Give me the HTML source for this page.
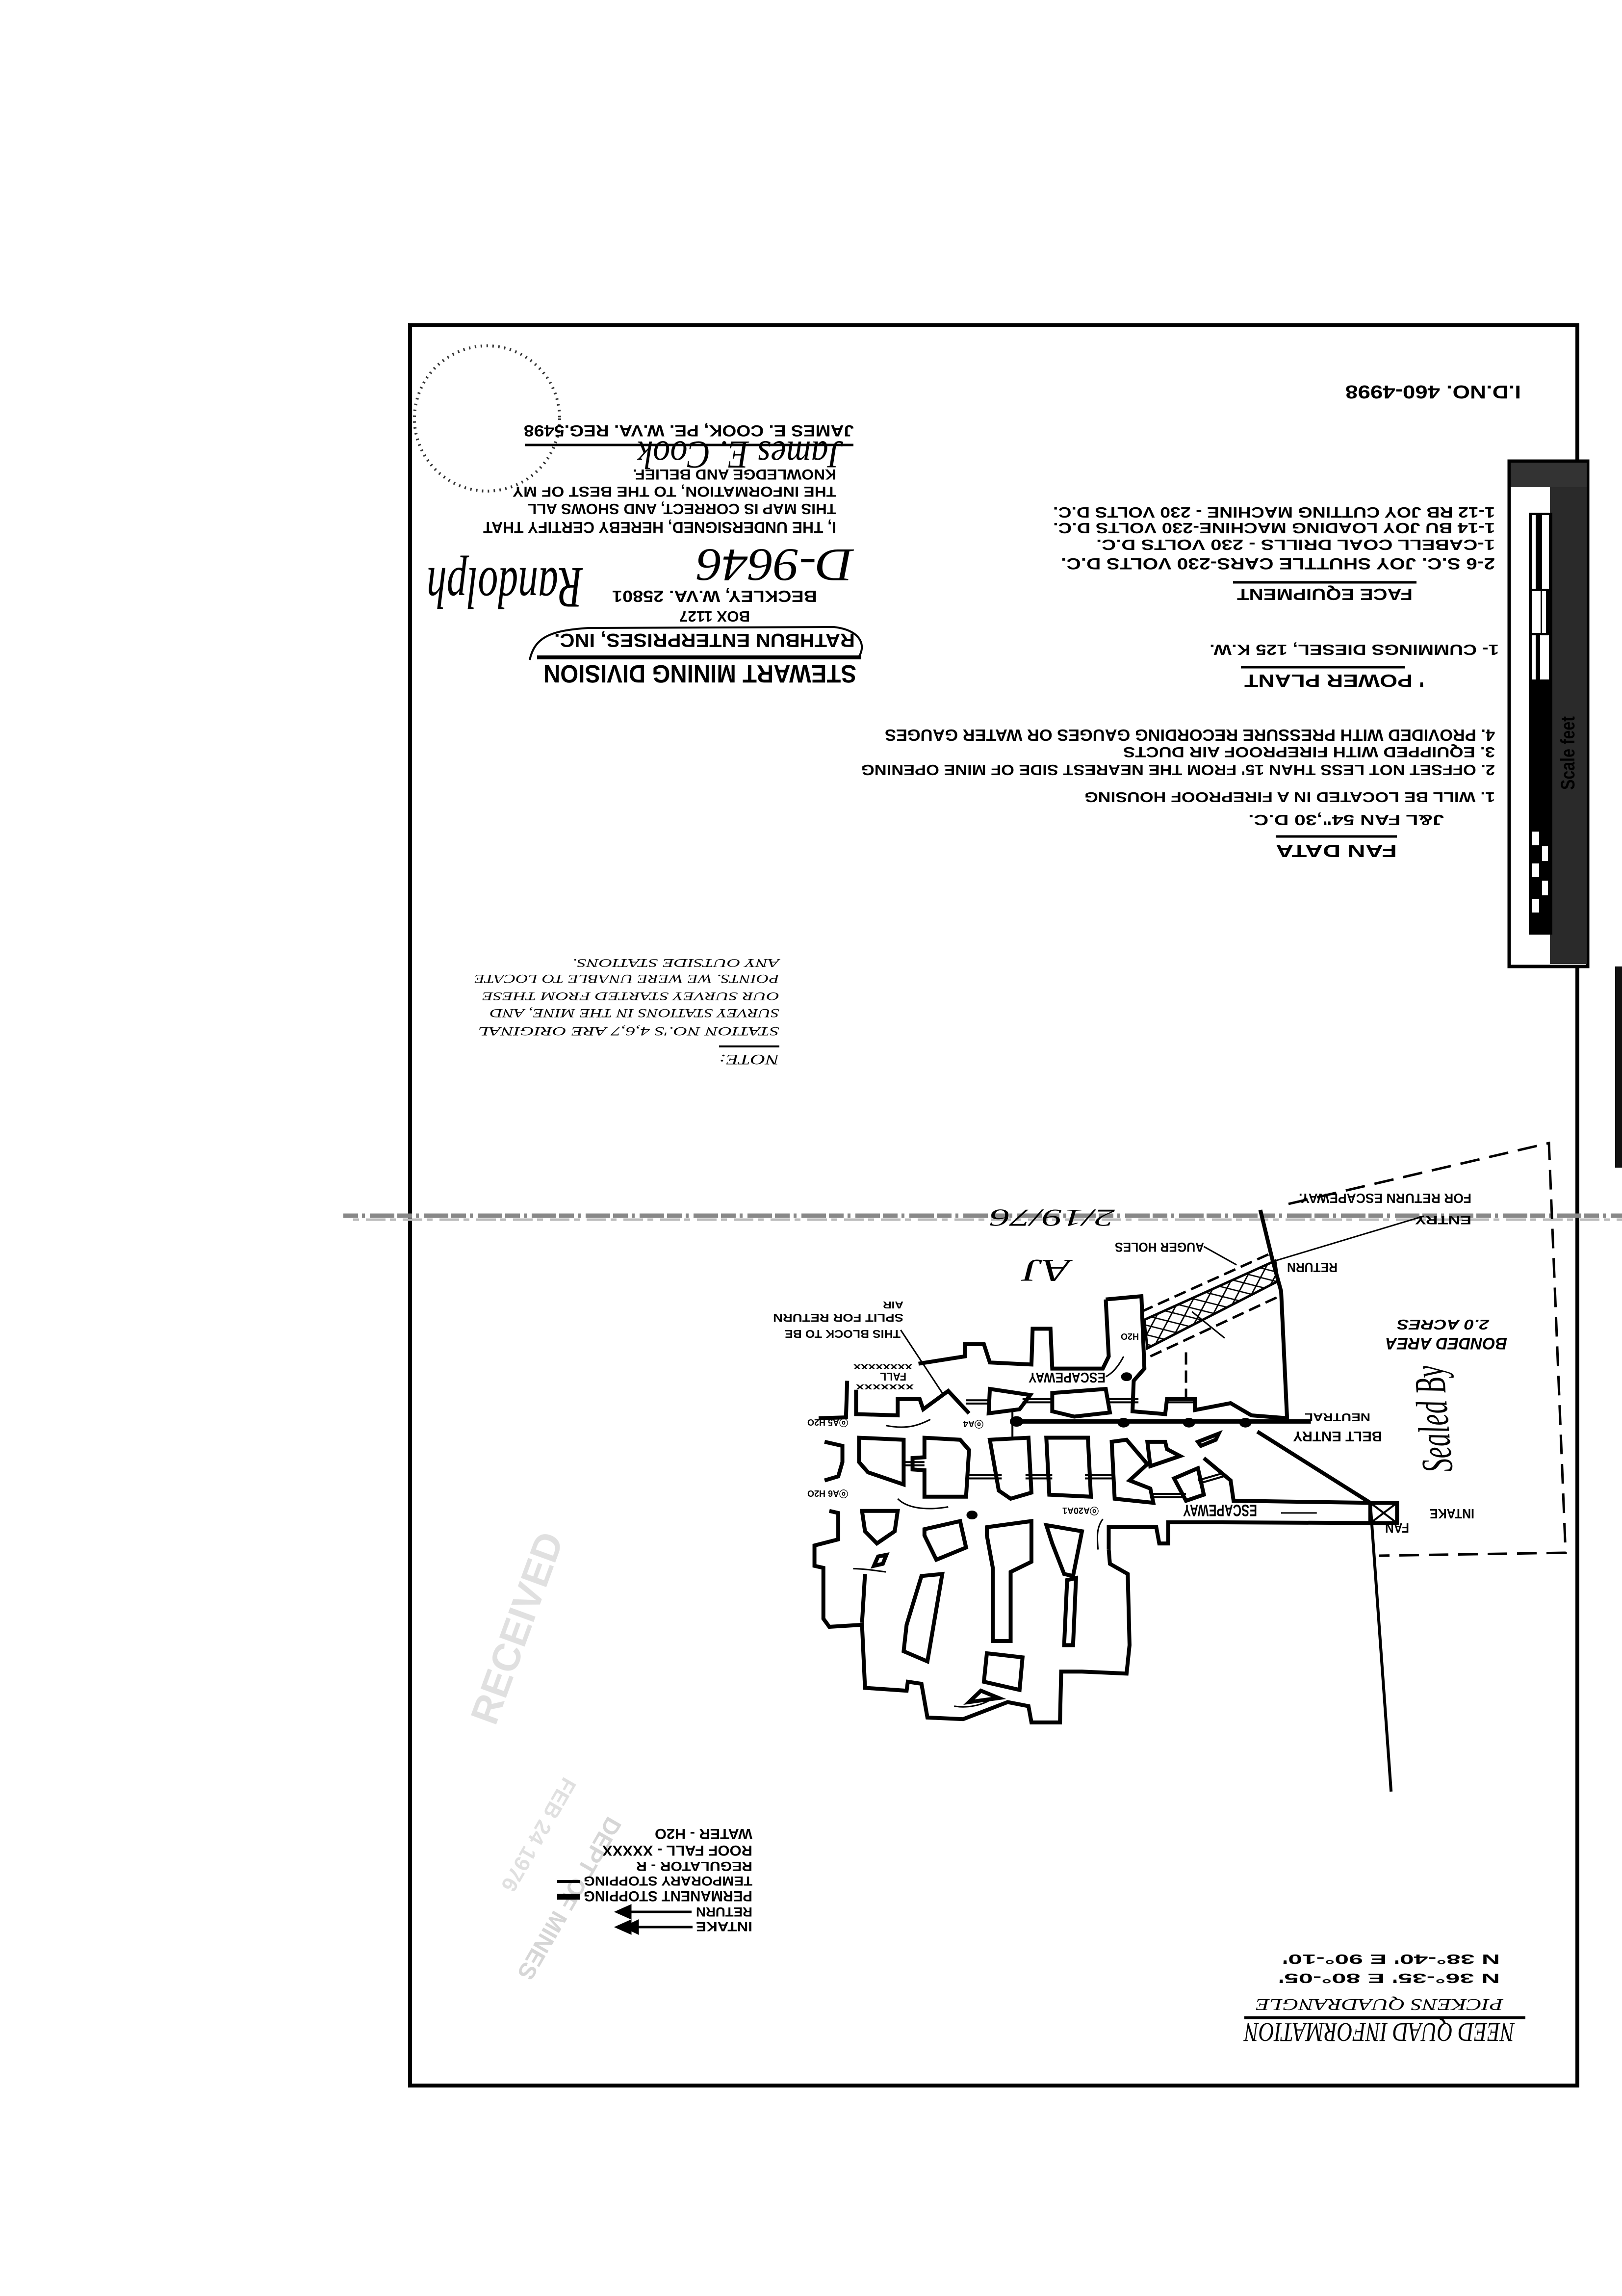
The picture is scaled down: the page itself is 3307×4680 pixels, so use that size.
<!DOCTYPE html>
<html><head><meta charset="utf-8"><style>
html,body{margin:0;padding:0;background:#fff}
svg{display:block}
.t{font-family:"Liberation Sans",sans-serif;font-weight:bold;fill:#000}
.h{font-family:"Liberation Serif",serif;font-style:italic;fill:#000}
</style></head><body>
<svg width="3307" height="4680" viewBox="0 0 3307 4680" xmlns="http://www.w3.org/2000/svg">
<defs>
<pattern id="hatch" width="22" height="22" patternUnits="userSpaceOnUse" patternTransform="rotate(20)">
<line x1="0" y1="0" x2="0" y2="22" stroke="#000" stroke-width="5"/>
<line x1="0" y1="11" x2="22" y2="11" stroke="#000" stroke-width="3"/>
</pattern>
</defs>
<rect width="3307" height="4680" fill="#fff"/>

<rect x="836" y="663" width="2380" height="3588" fill="none" stroke="#000" stroke-width="8"/>

<line x1="700" y1="2478" x2="3307" y2="2478" stroke="#888" stroke-width="9" stroke-dasharray="30 8 6 10 50 6"/>
<line x1="720" y1="2486" x2="3307" y2="2486" stroke="#bbb" stroke-width="5" stroke-dasharray="12 14 40 9"/>

<rect x="3293" y="1970" width="14" height="410" fill="#111"/>

<rect x="3077" y="940" width="160" height="1030" fill="#fff" stroke="#000" stroke-width="7"/>
<rect x="3160" y="945" width="75" height="1020" fill="#2a2a2a"/>
<rect x="3080" y="943" width="155" height="50" fill="#333"/>
<rect x="3117" y="1045" width="48" height="860" fill="#000"/>
<rect x="3123" y="1050" width="8" height="150" fill="#fff"/>
<rect x="3144" y="1050" width="14" height="150" fill="#fff"/>
<rect x="3123" y="1205" width="18" height="85" fill="#fff"/>
<rect x="3144" y="1205" width="8" height="85" fill="#fff"/>
<rect x="3123" y="1295" width="8" height="90" fill="#fff"/>
<rect x="3140" y="1295" width="18" height="90" fill="#fff"/>
<rect x="3123" y="1695" width="15" height="28" fill="#fff"/>
<rect x="3144" y="1725" width="12" height="30" fill="#fff"/>
<rect x="3123" y="1760" width="15" height="28" fill="#fff"/>
<rect x="3144" y="1795" width="12" height="30" fill="#fff"/>
<rect x="3123" y="1832" width="15" height="28" fill="#fff"/>
<text class="t" x="0" y="0" font-size="40" fill="#000" transform="translate(3210,1610) rotate(-90)" textLength="150" lengthAdjust="spacingAndGlyphs">Scale feet</text>

<circle cx="993" cy="853" r="148" fill="none" stroke="#000" stroke-width="6" stroke-dasharray="3 9" opacity="0.8"/>

<text class="t" x="2743" y="810" font-size="38" textLength="358" lengthAdjust="spacingAndGlyphs" transform="rotate(180 2922 798)">I.D.NO. 460-4998</text>
<text class="t" x="1068" y="891" font-size="32" textLength="673" lengthAdjust="spacingAndGlyphs" transform="rotate(180 1404.5 879)">JAMES E. COOK, PE. W.VA. REG.5498</text>
<line x1="1070" y1="907" x2="1740" y2="907" stroke="#000" stroke-width="5"/>
<text class="h" x="1300" y="950" font-size="80" textLength="420" lengthAdjust="spacingAndGlyphs" transform="rotate(180 1510 925)">James E. Cook</text>
<text class="t" x="1290" y="979" font-size="30" textLength="415" lengthAdjust="spacingAndGlyphs" transform="rotate(180 1497.5 968)">KNOWLEDGE AND BELIEF.</text>
<text class="t" x="1045" y="1014" font-size="30" textLength="660" lengthAdjust="spacingAndGlyphs" transform="rotate(180 1375 1003)">THE INFORMATION, TO THE BEST OF MY</text>
<text class="t" x="1075" y="1049" font-size="31" textLength="630" lengthAdjust="spacingAndGlyphs" transform="rotate(180 1390 1038)">THIS MAP IS CORRECT, AND SHOWS ALL</text>
<text class="t" x="985" y="1088" font-size="32" textLength="720" lengthAdjust="spacingAndGlyphs" transform="rotate(180 1345 1076)">I, THE UNDERSIGNED, HEREBY CERTIFY THAT</text>

<text class="h" x="1420" y="1180" font-size="95" textLength="320" lengthAdjust="spacingAndGlyphs" transform="rotate(180 1580 1150)">D-9646</text>
<text class="h" x="870" y="1250" font-size="120" textLength="318" lengthAdjust="spacingAndGlyphs" transform="rotate(180 1029 1204)">Randolph</text>

<text class="t" x="1248" y="1228" font-size="33" textLength="418" lengthAdjust="spacingAndGlyphs" transform="rotate(180 1457 1216)">BECKLEY, W.VA. 25801</text>
<text class="t" x="1385" y="1268" font-size="31" textLength="144" lengthAdjust="spacingAndGlyphs" transform="rotate(180 1457 1257)">BOX 1127</text>
<text class="t" x="1130" y="1320" font-size="39" textLength="613" lengthAdjust="spacingAndGlyphs" transform="rotate(180 1436.5 1306)">RATHBUN ENTERPRISES, INC.</text>
<path d="M1080,1345 C1090,1300 1120,1285 1200,1280 L1700,1278 C1760,1285 1765,1320 1750,1340" fill="none" stroke="#000" stroke-width="4"/>
<line x1="1095" y1="1340" x2="1756" y2="1340" stroke="#000" stroke-width="8"/>
<text class="t" x="1108" y="1393" font-size="51" textLength="638" lengthAdjust="spacingAndGlyphs" transform="rotate(180 1427 1374.5)">STEWART MINING DIVISION</text>

<text class="t" x="2147" y="1056" font-size="31" textLength="901" lengthAdjust="spacingAndGlyphs" transform="rotate(180 2597.5 1045)">1-12 RB JOY CUTTING MACHINE - 230 VOLTS D.C.</text>
<text class="t" x="2147" y="1088" font-size="31" textLength="901" lengthAdjust="spacingAndGlyphs" transform="rotate(180 2597.5 1077)">1-14 BU JOY LOADING MACHINE-230 VOLTS D.C.</text>
<text class="t" x="2235" y="1122" font-size="31" textLength="813" lengthAdjust="spacingAndGlyphs" transform="rotate(180 2641.5 1111)">1-CABELL COAL DRILLS - 230 VOLTS D.C.</text>
<text class="t" x="2163" y="1161" font-size="32" textLength="885" lengthAdjust="spacingAndGlyphs" transform="rotate(180 2605.5 1149.5)">2-6 S.C. JOY SHUTTLE CARS-230 VOLTS D.C.</text>
<line x1="2514" y1="1187" x2="2888" y2="1187" stroke="#000" stroke-width="5"/>
<text class="t" x="2522" y="1224" font-size="33" textLength="358" lengthAdjust="spacingAndGlyphs" transform="rotate(180 2701 1212)">FACE EQUIPMENT</text>
<text class="t" x="2466" y="1336" font-size="31" textLength="590" lengthAdjust="spacingAndGlyphs" transform="rotate(180 2761 1325)">1- CUMMINGS DIESEL, 125 K.W.</text>
<line x1="2530" y1="1360" x2="2864" y2="1360" stroke="#000" stroke-width="5"/>
<text class="t" x="2537" y="1401" font-size="36" textLength="367" lengthAdjust="spacingAndGlyphs" transform="rotate(180 2720.5 1388)">' POWER PLANT</text>
<text class="t" x="1804" y="1511" font-size="33" textLength="1244" lengthAdjust="spacingAndGlyphs" transform="rotate(180 2426 1499)">4. PROVIDED WITH PRESSURE RECORDING GAUGES OR WATER GAUGES</text>
<text class="t" x="2290" y="1544" font-size="30" textLength="758" lengthAdjust="spacingAndGlyphs" transform="rotate(180 2669 1533.5)">3. EQUIPPED WITH FIREPROOF AIR DUCTS</text>
<text class="t" x="1756" y="1581" font-size="31" textLength="1292" lengthAdjust="spacingAndGlyphs" transform="rotate(180 2402 1570)">2. OFFSET NOT LESS THAN 15' FROM THE NEAREST SIDE OF MINE OPENING</text>
<text class="t" x="2211" y="1635" font-size="29" textLength="837" lengthAdjust="spacingAndGlyphs" transform="rotate(180 2629.5 1625)">1. WILL BE LOCATED IN A FIREPROOF HOUSING</text>
<text class="t" x="2545" y="1683" font-size="31" textLength="399" lengthAdjust="spacingAndGlyphs" transform="rotate(180 2744.5 1672)">J&amp;L FAN  54",30 D.C.</text>
<line x1="2601" y1="1705" x2="2848" y2="1705" stroke="#000" stroke-width="5"/>
<text class="t" x="2601" y="1748" font-size="36" textLength="247" lengthAdjust="spacingAndGlyphs" transform="rotate(180 2724.5 1735)">FAN  DATA</text>

<g class="h">
<text x="1167" y="1972" font-size="24" textLength="422" lengthAdjust="spacingAndGlyphs" transform="rotate(180 1378 1963.5)">ANY OUTSIDE STATIONS.</text>
<text x="967" y="2005" font-size="25" textLength="622" lengthAdjust="spacingAndGlyphs" transform="rotate(180 1278 1996)">POINTS. WE WERE UNABLE TO LOCATE</text>
<text x="983" y="2038" font-size="23" textLength="606" lengthAdjust="spacingAndGlyphs" transform="rotate(180 1286 2030.5)">OUR SURVEY STARTED FROM THESE</text>
<text x="999" y="2074" font-size="25" textLength="590" lengthAdjust="spacingAndGlyphs" transform="rotate(180 1294 2065.5)">SURVEY STATIONS IN THE MINE, AND</text>
<text x="975" y="2112" font-size="25" textLength="614" lengthAdjust="spacingAndGlyphs" transform="rotate(180 1282 2103)">STATION NO.'S 4,6,7 ARE ORIGINAL</text>
<text x="1466" y="2171" font-size="30" textLength="123" lengthAdjust="spacingAndGlyphs" transform="rotate(180 1527.5 2160.5)">NOTE:</text>
</g>
<line x1="1466" y1="2133" x2="1589" y2="2133" stroke="#000" stroke-width="4"/>

<g transform="translate(1400,2400) scale(1.212,0.829)">
<g fill="none" stroke="#000" stroke-width="8">
<path vector-effect="non-scaling-stroke" d="M705,300 L765,292 L770,470 L752,500 L750,575 L805,582 L808,545 L855,545 L855,572 L915,555 L950,585 L1010,592 L1000,280 L985,200 L965,80"/>
<path vector-effect="non-scaling-stroke" d="M705,300 L710,440 L700,470 L615,470 L612,372 L582,372 L580,460 L510,455 L500,410 L468,410 L468,440 L390,458"/>
<path vector-effect="non-scaling-stroke" d="M270,500 L268,590 L222,592"/>
<path vector-effect="non-scaling-stroke" d="M285,522 L285,582 L355,585 L355,545 L392,545 L398,570 L440,525 L475,580"/>
<path vector-effect="non-scaling-stroke" d="M510,520 L578,535 L560,570 L508,580 Z"/>
<path vector-effect="non-scaling-stroke" d="M615,530 L705,520 L712,578 L652,588 L615,575 Z"/>
<path vector-effect="non-scaling-stroke" d="M960,625 L1150,800"/>
<path vector-effect="non-scaling-stroke" d="M870,690 L915,745 L920,795 L1150,800"/>
<path vector-effect="non-scaling-stroke" d="M710,915 L710,860 L790,860 L795,900 L810,900 L810,848 L900,848 L1195,850"/>
<rect vector-effect="non-scaling-stroke" x="1150" y="800" width="45" height="50"/>
<path vector-effect="non-scaling-stroke" d="M1150,800 L1195,850 M1195,800 L1150,850" stroke-width="4"/>
<path vector-effect="non-scaling-stroke" d="M240,820 L255,825 L255,890 L215,905 L215,955 L230,960 L230,1085 L240,1105 L295,1100 L300,1255 L370,1262 L372,1240 L395,1245 L405,1328 L465,1332 L540,1290 L575,1300 L580,1340 L628,1340 L630,1215 L665,1215 L740,1220 L745,1150 L742,975 L712,950 L710,915"/>
<path vector-effect="non-scaling-stroke" d="M232,650 L262,660 L262,700 L255,735 L232,745"/>
<path vector-effect="non-scaling-stroke" d="M290,640 L365,645 L365,755 L305,725 L290,700 Z"/>
<path vector-effect="non-scaling-stroke" d="M400,640 L460,645 L475,670 L470,785 L400,785 L400,720 L380,718 L380,690 L400,688 Z"/>
<path vector-effect="non-scaling-stroke" d="M510,645 L575,640 L580,775 L545,790 L525,770 Z"/>
<path vector-effect="non-scaling-stroke" d="M605,640 L675,640 L680,785 L610,780 Z"/>
<path vector-effect="non-scaling-stroke" d="M715,650 L740,645 L775,705 L745,745 L780,765 L785,800 L720,790 Z"/>
<path vector-effect="non-scaling-stroke" d="M775,650 L805,650 L808,668 L830,685 L780,710 Z"/>
<path vector-effect="non-scaling-stroke" d="M820,740 L860,715 L870,780 L840,795 Z"/>
<path vector-effect="non-scaling-stroke" d="M860,650 L895,630 L890,645 L865,660 Z"/>
<path vector-effect="non-scaling-stroke" d="M295,820 L355,820 L350,870 L320,900 L300,870 Z"/>
<path vector-effect="non-scaling-stroke" d="M400,865 L460,845 L470,910 L420,940 L400,880 Z"/>
<path vector-effect="non-scaling-stroke" d="M505,860 L580,845 L580,945 L545,970 L545,1140 L515,1140 L515,960 L505,880 Z"/>
<path vector-effect="non-scaling-stroke" d="M605,855 L665,870 L650,980 L635,975 L615,900 Z"/>
<path vector-effect="non-scaling-stroke" d="M640,990 L655,985 L650,1150 L635,1150 Z"/>
<path vector-effect="non-scaling-stroke" d="M395,980 L430,975 L405,1190 L365,1165 L370,1100 Z"/>
<path vector-effect="non-scaling-stroke" d="M505,1170 L565,1180 L560,1260 L500,1240 Z"/>
<path vector-effect="non-scaling-stroke" d="M475,1290 L525,1280 L495,1262 Z"/>
<path vector-effect="non-scaling-stroke" d="M315,955 L322,932 L336,928 L330,950 Z"/>
<path vector-effect="non-scaling-stroke" d="M300,975 L295,1095"/>
<path vector-effect="non-scaling-stroke" d="M1150,800 L1185,1510" stroke-width="6"/>
<path vector-effect="non-scaling-stroke" d="M545,600 L1050,600" stroke-width="9"/>
<path vector-effect="non-scaling-stroke" d="M548,570 L548,640" stroke-width="4"/>
<path vector-effect="non-scaling-stroke" d="M770,350 L990,205 L995,255 L775,420 Z" fill="url(#hatch)" stroke-width="5"/>
<path vector-effect="non-scaling-stroke" d="M765,330 L985,185 M780,440 L1000,290 M840,430 L840,545" stroke-width="5" stroke-dasharray="25 12"/>
<path vector-effect="non-scaling-stroke" d="M850,330 L905,395 M870,170 L925,215 M1240,95 L990,205 M360,375 L430,530" stroke-width="3"/>
<path vector-effect="non-scaling-stroke" d="M470,548 L510,548 M470,556 L510,556 M565,545 L615,545 M565,553 L615,553 M710,545 L760,545 M710,553 L760,553 M810,545 L855,545 M810,553 L855,553 M470,732 L530,732 M470,740 L530,740 M570,732 L615,732 M570,740 L615,740 M670,732 L720,732 M670,740 L720,740 M780,778 L840,778 M780,786 L840,786 M860,745 L900,728 M863,752 L903,735 M365,700 L400,700 M365,708 L400,708" stroke-width="4"/>
<path vector-effect="non-scaling-stroke" d="M335,610 C370,620 390,610 410,595 M440,810 C400,820 370,812 355,790 M700,840 C690,860 690,880 692,915 M735,440 C728,460 718,480 705,490 M520,1275 C500,1300 470,1305 450,1300 M335,970 C310,965 295,962 280,962 M1060,825 L1000,825" stroke-width="3"/>
<circle vector-effect="non-scaling-stroke" cx="555" cy="600" r="8" fill="#000"/>
<circle vector-effect="non-scaling-stroke" cx="735" cy="603" r="7" fill="#000"/>
<circle vector-effect="non-scaling-stroke" cx="845" cy="603" r="7" fill="#000"/>
<circle vector-effect="non-scaling-stroke" cx="940" cy="603" r="7" fill="#000"/>
<circle vector-effect="non-scaling-stroke" cx="740" cy="490" r="6" fill="#000"/>
<circle vector-effect="non-scaling-stroke" cx="480" cy="830" r="6" fill="#000"/>
</g>
</g>
<path d="M2627,2454 L3158,2330 L3192,3165 L2812,3171" fill="none" stroke="#000" stroke-width="5" stroke-dasharray="40 20"/>

<g class="t">
<text x="2648" y="2454" font-size="28" textLength="352" lengthAdjust="spacingAndGlyphs" transform="rotate(180 2824 2443.5)">FOR RETURN ESCAPEWAY.</text>
<text x="2885" y="2495" font-size="24" textLength="115" lengthAdjust="spacingAndGlyphs" transform="rotate(180 2942.5 2487)">ENTRY</text>
<text x="2273" y="2553" font-size="27" textLength="182" lengthAdjust="spacingAndGlyphs" transform="rotate(180 2364 2543)">AUGER HOLES</text>
<text x="2624" y="2595" font-size="28" textLength="103" lengthAdjust="spacingAndGlyphs" transform="rotate(180 2675.5 2584.5)">RETURN</text>
<text x="2824" y="2752" font-size="34" textLength="249" lengthAdjust="spacingAndGlyphs" transform="rotate(180 2948.5 2739.5)" font-style="italic">BONDED AREA</text>
<text x="2848" y="2711" font-size="29" textLength="188" lengthAdjust="spacingAndGlyphs" transform="rotate(180 2942 2700.5)" font-style="italic">2.0 ACRES</text>
<text x="1600" y="2727" font-size="23" textLength="236" lengthAdjust="spacingAndGlyphs" transform="rotate(180 1718 2719)">THIS BLOCK TO BE</text>
<text x="1576" y="2694" font-size="23" textLength="266" lengthAdjust="spacingAndGlyphs" transform="rotate(180 1709 2686)">SPLIT FOR RETURN</text>
<text x="1800" y="2667" font-size="20" textLength="42" lengthAdjust="spacingAndGlyphs" transform="rotate(180 1821 2660)">AIR</text>
<text x="2097" y="2819" font-size="29" textLength="157" lengthAdjust="spacingAndGlyphs" transform="rotate(180 2175.5 2808.5)">ESCAPEWAY</text>
<text x="2660" y="2897" font-size="22" textLength="134" lengthAdjust="spacingAndGlyphs" transform="rotate(180 2727 2889)">NEUTRAL</text>
<text x="2636" y="2939" font-size="29" textLength="182" lengthAdjust="spacingAndGlyphs" transform="rotate(180 2727 2928.5)">BELT ENTRY</text>
<text x="2915" y="3096" font-size="28" textLength="91" lengthAdjust="spacingAndGlyphs" transform="rotate(180 2960.5 3086)">INTAKE</text>
<text x="2824" y="3125" font-size="28" textLength="49" lengthAdjust="spacingAndGlyphs" transform="rotate(180 2848.5 3115)">FAN</text>
<text x="2412" y="3092" font-size="34" textLength="151" lengthAdjust="spacingAndGlyphs" transform="rotate(180 2487.5 3079.5)">ESCAPEWAY</text>
<text x="1794" y="2815" font-size="23" textLength="54" lengthAdjust="spacingAndGlyphs" transform="rotate(180 1821 2806.5)">FALL</text>
<text x="1740" y="2793" font-size="18" textLength="120" lengthAdjust="spacingAndGlyphs" transform="rotate(180 1800 2787)">xxxxxxxx</text>
<text x="1745" y="2834" font-size="18" textLength="118" lengthAdjust="spacingAndGlyphs" transform="rotate(180 1804 2828)">xxxxxxx</text>
<text x="1975" y="2908" font-size="18" transform="rotate(180 1990 2902)">ⓞA4</text>
<text x="1695" y="2905" font-size="18" transform="rotate(180 1712 2899)">ⓞA5 H2O</text>
<text x="1695" y="3050" font-size="18" transform="rotate(180 1712 3044)">ⓞA6 H2O</text>
<text x="2180" y="3085" font-size="18" transform="rotate(180 2210 3079)">ⓞA20A1</text>
<text x="2298" y="2730" font-size="18" transform="rotate(180 2310 2724)">H2O</text>
</g>
<text class="h" x="2018" y="2500" font-size="50" textLength="255" lengthAdjust="spacingAndGlyphs" transform="rotate(180 2145.5 2483)">2/19/76</text>
<text class="h" x="2085" y="2612" font-size="65" textLength="97" lengthAdjust="spacingAndGlyphs" transform="rotate(180 2133.5 2590)">AJ</text>
<text class="h" x="2806" y="2930" font-size="90" textLength="218" lengthAdjust="spacingAndGlyphs" transform="rotate(-95 2915 2893)">Sealed By</text>

<g fill="#bbb" font-family="Liberation Sans, sans-serif" font-weight="bold" opacity="0.6">
<text x="0" y="0" font-size="48" transform="translate(1240,3700) rotate(120)">DEPT OF MINES</text>
<text x="0" y="0" font-size="44" transform="translate(1150,3620) rotate(120)" fill="#ccc">FEB 24 1976</text>
<text x="0" y="0" font-size="80" transform="translate(1010,3520) rotate(-70)" fill="#ccc">RECEIVED</text>
</g>

<g class="t">
<text x="1419" y="3938" font-size="27" textLength="115" lengthAdjust="spacingAndGlyphs" transform="rotate(180 1476.5 3928)">INTAKE</text>
<text x="1419" y="3907" font-size="27" textLength="115" lengthAdjust="spacingAndGlyphs" transform="rotate(180 1476.5 3897.5)">RETURN</text>
<text x="1190" y="3877" font-size="30" textLength="344" lengthAdjust="spacingAndGlyphs" transform="rotate(180 1362 3866)">PERMANENT STOPPING</text>
<text x="1190" y="3844" font-size="27" textLength="344" lengthAdjust="spacingAndGlyphs" transform="rotate(180 1362 3834.5)">TEMPORARY STOPPING</text>
<text x="1297" y="3814" font-size="27" textLength="237" lengthAdjust="spacingAndGlyphs" transform="rotate(180 1415.5 3804.5)">REGULATOR - R</text>
<text x="1228" y="3784" font-size="30" textLength="306" lengthAdjust="spacingAndGlyphs" transform="rotate(180 1381 3773)">ROOF FALL - XXXXX</text>
<text x="1335" y="3752" font-size="30" textLength="199" lengthAdjust="spacingAndGlyphs" transform="rotate(180 1434.5 3740)">WATER - H2O</text>
</g>
<path d="M1270,3928 L1412,3928 M1258,3928 L1285,3916 L1285,3940 Z M1275,3928 L1300,3916 L1300,3940 Z" stroke="#000" stroke-width="5" fill="#000"/>
<path d="M1270,3897 L1410,3897 M1258,3897 L1285,3885 L1285,3909 Z" stroke="#000" stroke-width="5" fill="#000"/>
<rect x="1136" y="3860" width="46" height="12" fill="#000"/>
<line x1="1136" y1="3835" x2="1182" y2="3835" stroke="#000" stroke-width="6"/>

<text class="h" x="2537" y="4168" font-size="55" textLength="551" lengthAdjust="spacingAndGlyphs" transform="rotate(180 2812.5 4146)">NEED QUAD INFORMATION</text>
<line x1="2537" y1="4113" x2="3110" y2="4113" stroke="#000" stroke-width="6"/>
<text class="h" x="2560" y="4099" font-size="34" textLength="505" lengthAdjust="spacingAndGlyphs" transform="rotate(180 2812.5 4087)">PICKENS QUADRANGLE</text>
<text class="t" x="2606" y="4042" font-size="28" textLength="452" lengthAdjust="spacingAndGlyphs" transform="rotate(180 2832 4032.5)">N 36°-35'   E 80°-05'</text>
<text class="t" x="2614" y="4003" font-size="28" textLength="444" lengthAdjust="spacingAndGlyphs" transform="rotate(180 2836 3993.5)">N 38°-40'   E 90°-10'</text>
</svg>
</body></html>
